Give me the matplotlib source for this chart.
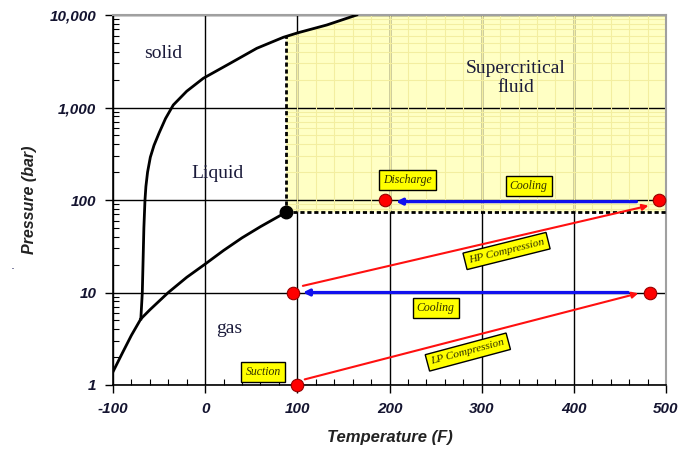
import numpy as np
import matplotlib
matplotlib.use("Agg")
import matplotlib.pyplot as plt
from matplotlib.patches import Polygon
from matplotlib.font_manager import FontProperties
from matplotlib.ticker import FixedLocator, NullFormatter, LogLocator

plt.rcParams["axes.unicode_minus"] = False

# ---------------- data ----------------
# sublimation curve (gas/solid)
subl_T = [-100, -90, -80, -69.8]
subl_P = [1.39, 2.2, 3.45, 5.18]
# vaporization curve (liquid/gas) up to critical point
vap_T = [-69.8, -60, -40, -20, 0, 20, 40, 60, 87.8]
vap_P = [5.18, 6.5, 10.0, 14.6, 20.3, 28.5, 39.0, 51.5, 73.8]
# melting curve (solid/liquid)
melt_T = [-69.8, -68.2, -66.5, -65.3, -64.3, -62.5, -59.5, -55.5, -50, -43, -34.6, -20, -2, 27, 56, 84.8, 101, 132, 164.4]
melt_P = [5.18, 10, 50, 100, 140, 200, 290, 390, 530, 760, 1064, 1500, 2070, 3000, 4365, 5740, 6440, 7800, 10000]
# critical point
crit_T, crit_P = 87.8, 73.8

# process state points
state_T = [100, 95, 483, 195, 492]
state_P = [1, 10, 10, 100, 100]

# process arrows: (T_start, P_start, T_end, P_end)
lp_comp = (108, 1.15, 470, 9.8)
hp_comp = (106, 11.8, 481, 86.8)
cool_hp = (468, 96, 207, 96)
cool_lp = (459, 10, 106, 10)

# region labels
regions = ["solid", "Liquid", "gas", "Supercritical\nfluid"]
region_T = [-46, 13, 26, 337]
region_P = [3850, 194, 4.1, 2083]

# tag labels
tags = ["Discharge", "Cooling", "Cooling", "HP Compression", "LP Compression", "Suction"]
tag_T = [220, 351, 250, 327, 285, 63]
tag_P = [164, 142, 6.8, 28.1, 2.27, 1.38]
tag_rot = [0, 0, 0, 14, 15, 0]

x_ticks = [-100, 0, 100, 200, 300, 400, 500]
x_ticklabels = ["-100", "0", "100", "200", "300", "400", "500"]
y_ticks = [1, 10, 100, 1000, 10000]
y_ticklabels = ["1", "10", "100", "1,000", "10,000"]

# ---------------- figure ----------------
fig = plt.figure(figsize=(6.93, 4.49), dpi=100)
ax = fig.add_axes([113/693, 1-385/449, (666-113)/693, (385-15)/449])
ax.set_xlim(-100, 500)
ax.set_yscale("log")
ax.set_ylim(1, 10000)

# supercritical region polygon
melt_logP_at_crit = np.interp(crit_T, melt_T, np.log10(melt_P))
top_T = [t for t in melt_T if t > crit_T]
top_P = [p for t, p in zip(melt_T, melt_P) if t > crit_T]
verts = [(crit_T, crit_P), (500, crit_P), (500, 10000)]
verts += list(zip(top_T[::-1], top_P[::-1]))
verts += [(crit_T, 10 ** melt_logP_at_crit)]
poly = Polygon(verts, closed=True, facecolor="#FFFFC4", edgecolor="none", zorder=0.5)
ax.add_patch(poly)

# faint minor grid inside supercritical region
minor_x = np.arange(-80, 500, 20)
minor_y = [m * 10 ** e for e in range(0, 4) for m in range(2, 10)]
vl = ax.vlines(minor_x, 1, 10000, colors="#F3EEA0", lw=0.8, zorder=0.6)
hl = ax.hlines(minor_y, -100, 500, colors="#F3EEA0", lw=0.8, zorder=0.6)
vl.set_clip_path(poly)
hl.set_clip_path(poly)

# ticks & grid
tick_fp = FontProperties(family="Liberation Sans", weight="bold", style="italic", size=11)
ax.set_xticks(x_ticks)
ax.set_xticklabels(x_ticklabels, fontproperties=tick_fp, color="#141430")
ax.set_yticks(y_ticks)
ax.set_yticklabels(y_ticklabels, fontproperties=tick_fp, color="#141430")
ax.grid(True, which="major", color="black", lw=1.0, zorder=1)
ax.set_axisbelow(True)
ax.xaxis.set_minor_locator(FixedLocator(minor_x))
ax.yaxis.set_minor_locator(LogLocator(base=10, subs=np.arange(2, 10)))
ax.yaxis.set_minor_formatter(NullFormatter())
ax.tick_params(which="major", direction="out", length=6, width=1.0, pad=6)
ax.tick_params(which="minor", direction="in", length=4, width=0.8)

for s in ["left", "bottom"]:
    ax.spines[s].set_color("black")
    ax.spines[s].set_linewidth(1.2)
for s in ["top", "right"]:
    ax.spines[s].set_color("#A0A0A0")
    ax.spines[s].set_linewidth(1.5)

ax.set_xlabel("Temperature (F)", fontdict=dict(family="Liberation Sans", weight="bold",
              style="italic", size=12), color="#222222", labelpad=10)
ax.set_ylabel("Pressure (bar)", fontdict=dict(family="Liberation Sans", weight="bold",
              style="italic", size=11.5), color="#222222", labelpad=9)

# phase boundaries
ax.plot(subl_T, subl_P, color="black", lw=2, zorder=3)
ax.plot(vap_T, vap_P, color="black", lw=2, zorder=3)
ax.plot(melt_T, melt_P, color="black", lw=2, zorder=3)

# critical dashed lines
ax.plot([crit_T, crit_T], [crit_P, 10 ** melt_logP_at_crit], color="black", lw=2,
        ls=(0, (1.5, 1)), zorder=3)
ax.plot([crit_T, 500], [crit_P, crit_P], color="black", lw=2, ls=(0, (1.5, 1)), zorder=3)
ax.plot([crit_T], [crit_P], "o", color="black", ms=9, zorder=5, clip_on=False)

# process arrows
def arrow(seg, color, lw):
    ax.annotate("", xy=(seg[2], seg[3]), xytext=(seg[0], seg[1]),
                arrowprops=dict(arrowstyle="-|>", color=color, lw=lw,
                                mutation_scale=9, shrinkA=0, shrinkB=0), zorder=4)

arrow(lp_comp, "#FF1010", 1.5)
arrow(hp_comp, "#FF1010", 1.5)
arrow(cool_hp, "#1010EE", 2.3)
arrow(cool_lp, "#1010EE", 2.3)

ax.plot(state_T, state_P, "o", color="#FF0000", mec="#990000", mew=0.8, ms=9,
        zorder=6, clip_on=False)

# region labels
for txt, t, p in zip(regions, region_T, region_P):
    ax.text(t, p, txt, ha="center", va="center", family="Liberation Serif", size=14,
            color="#1a1a3a", linespacing=1.15, zorder=6)

# tag labels
for txt, t, p, r in zip(tags, tag_T, tag_P, tag_rot):
    ax.text(t, p, txt, ha="center", va="center", family="Liberation Serif", style="italic",
            size=8.2 if "Compression" in txt else 8.5, rotation=r, color="#303000", zorder=7,
            bbox=dict(boxstyle="square,pad=0.35", fc="#FFFF00", ec="black", lw=1.0))

fig.text(13/693, 1-272/449, ".", color="#333366", size=9, ha="center", va="bottom")

fig.savefig("out.png", dpi=100)
